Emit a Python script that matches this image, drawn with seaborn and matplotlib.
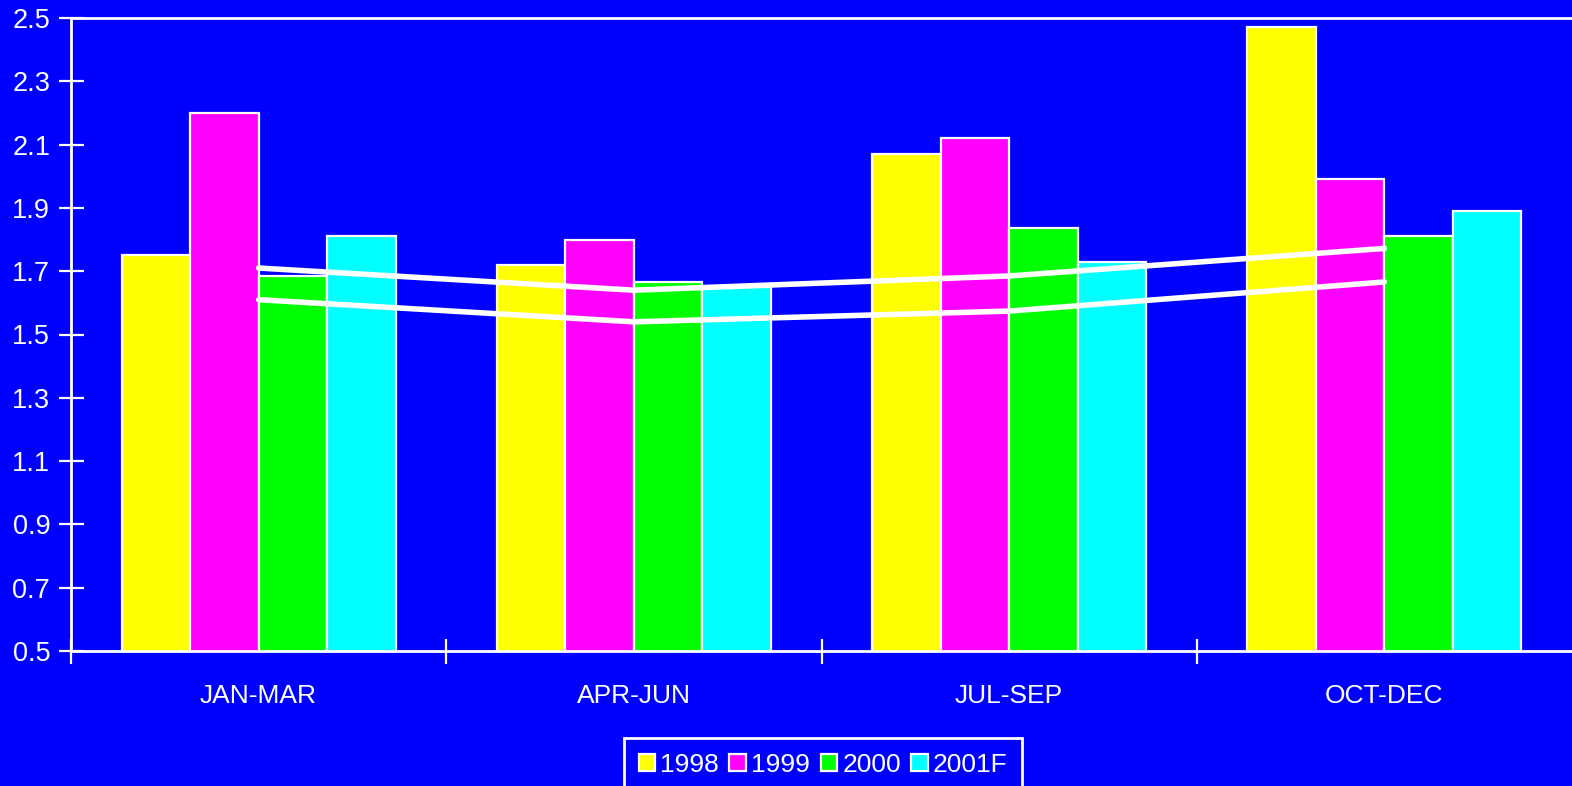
import matplotlib
matplotlib.use("Agg")
import matplotlib.pyplot as plt
import matplotlib.patches as mpatches
import numpy as np
import pandas as pd
import seaborn as sns

# Quarterly values per year
quarters = ["JAN-MAR", "APR-JUN", "JUL-SEP", "OCT-DEC"]
years = ["1998", "1999", "2000", "2001F"]
v1998 = [1.75, 1.72, 2.07, 2.47]
v1999 = [2.20, 1.80, 2.12, 1.99]
v2000 = [1.685, 1.665, 1.835, 1.81]
v2001f = [1.81, 1.65, 1.73, 1.89]
# Two reference lines across the quarters
upper_line = [1.71, 1.64, 1.685, 1.772]
lower_line = [1.61, 1.54, 1.574, 1.666]

yticks = [0.5, 0.7, 0.9, 1.1, 1.3, 1.5, 1.7, 1.9, 2.1, 2.3, 2.5]

colors = ["#ffff00", "#ff00ff", "#00ff00", "#00ffff"]
bg = "#0000ff"

df = pd.DataFrame({
    "quarter": quarters * 4,
    "year": [y for y in years for _ in quarters],
    "value": v1998 + v1999 + v2000 + v2001f,
})

sns.set_style("white")
plt.rcParams["font.family"] = ["Liberation Sans", "DejaVu Sans"]

fig = plt.figure(figsize=(15.72, 7.86), dpi=100, facecolor=bg)
ax = fig.add_axes([71 / 1572, 1 - 651 / 786, 1 - 71 / 1572, (651 - 18) / 786])
ax.set_facecolor(bg)

sns.barplot(data=df, x="quarter", y="value", hue="year", order=quarters,
            hue_order=years, palette=colors, width=0.73, gap=0,
            edgecolor="white", linewidth=1.6, saturation=1,
            legend=False, ax=ax, zorder=2)

xs = np.arange(len(quarters))
for line in (upper_line, lower_line):
    ax.plot(xs, line, color="white", lw=4, solid_capstyle="round", zorder=5)

ax.set_xlim(-0.5, 3.5)
ax.set_ylim(0.5, 2.5)
ax.set_yticks(yticks)
ax.set_yticklabels([f"{t:.1f}" for t in yticks])
ax.set_xlabel("")
ax.set_ylabel("")

for side in ("left", "top", "bottom"):
    ax.spines[side].set_visible(True)
    ax.spines[side].set_color("white")
    ax.spines[side].set_linewidth(2)
ax.spines["right"].set_visible(False)

ax.tick_params(axis="y", direction="inout", length=18, width=1.6, color="white",
               labelcolor="white", labelsize=19.5, pad=6, left=True)
ax.tick_params(axis="x", which="major", length=0, labelcolor="white",
               labelsize=19, pad=24)
ax.set_xticks([-0.5, 0.5, 1.5, 2.5], minor=True)
ax.tick_params(axis="x", which="minor", direction="inout", length=18,
               width=1.6, color="white", bottom=True)

handles = [mpatches.Patch(facecolor=c, edgecolor="white", linewidth=1.6, label=y)
           for c, y in zip(colors, years)]
leg = fig.legend(handles=handles, loc="upper center", ncol=4,
                 bbox_to_anchor=(0.5236, 0.0605), frameon=True, fancybox=False,
                 framealpha=1, fontsize=19, handlelength=0.62, handleheight=0.62,
                 handletextpad=0.2, columnspacing=0.4, borderpad=0.55,
                 borderaxespad=0, labelcolor="white")
leg.get_frame().set_facecolor(bg)
leg.get_frame().set_edgecolor("white")
leg.get_frame().set_linewidth(2)

fig.savefig("out.png", dpi=100, facecolor=bg)
